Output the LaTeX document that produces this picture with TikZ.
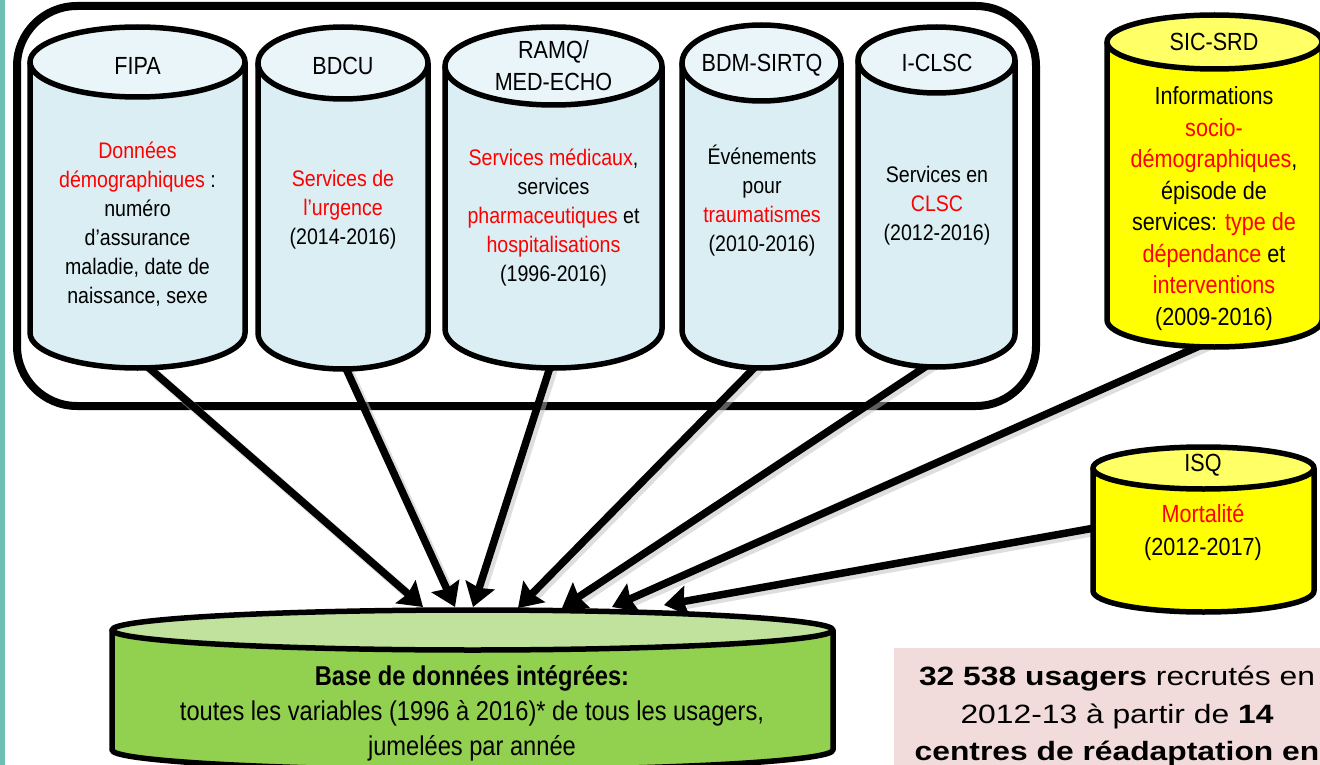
\documentclass[tikz,border=0pt]{standalone}
\usepackage{fontspec}
\setmainfont{Liberation Sans}
\newfontfamily\cylf[FakeStretch=0.87]{Liberation Sans}
\newfontfamily\pinkf[FakeStretch=1.2]{Liberation Sans}
\usetikzlibrary{arrows.meta}
\definecolor{teal0}{HTML}{6CBFB1}
\definecolor{bluebody}{HTML}{DAEEF3}
\definecolor{bluetop}{HTML}{EAF5F9}
\definecolor{yelbody}{HTML}{FFFF00}
\definecolor{yeltop}{HTML}{FFFF66}
\definecolor{grnbody}{HTML}{92D050}
\definecolor{grntop}{HTML}{C0E29C}
\definecolor{pinkbg}{HTML}{F2DCDB}
\definecolor{txtred}{HTML}{FF0000}
\newcommand\redt[1]{\textcolor{txtred}{#1}}
% x1, x2, ytop, ybot, ry, body fill, top fill
\newcommand\dbcyl[7]{%
  \pgfmathsetmacro{\cylcx}{(#1+#2)/2}%
  \pgfmathsetmacro{\cylrx}{(#2-#1)/2}%
  \pgfmathsetmacro{\cylya}{#3+#5}%
  \pgfmathsetmacro{\cylyb}{#4-#5}%
  \path[fill=#6] (#1,\cylya) -- (#1,\cylyb) arc[start angle=180,end angle=0,x radius=\cylrx,y radius=#5] -- (#2,\cylya) -- cycle;
  \draw[cylline] (#1,\cylya) -- (#1,\cylyb) arc[start angle=180,end angle=0,x radius=\cylrx,y radius=#5] -- (#2,\cylya);
  \draw[cylline,fill=#7] (\cylcx,\cylya) ellipse[x radius=\cylrx,y radius=#5];
}
\tikzset{
  cylline/.style={line width=5.5pt,line join=round},
  hdr/.style={inner sep=0pt,align=center,font=\cylf\fontsize{24.8}{32}\selectfont},
  bluetxt/.style={inner sep=0pt,align=center,font=\cylf\fontsize{22.5}{29}\selectfont},
  yeltxt/.style={inner sep=0pt,align=center,font=\cylf\fontsize{24.8}{31.5}\selectfont},
  isqtxt/.style={inner sep=0pt,align=center,font=\cylf\fontsize{24.8}{33}\selectfont},
  grntxt/.style={inner sep=0pt,align=center,font=\cylf\fontsize{27.2}{35}\selectfont},
  pinktxt/.style={inner sep=0pt,align=center,font=\pinkf\fontsize{26.5}{37.5}\selectfont},
  arr/.style={line width=7.5pt,-{Stealth[length=23pt,width=30pt,inset=3pt]}},
  arrshadow/.style={line width=9pt,black!25,opacity=0.5,shorten >=20pt},
}
\begin{document}
\begin{tikzpicture}[x=1pt,y=-1pt]
\useasboundingbox (0,0) rectangle (1320,765);
\fill[white] (0,0) rectangle (1320,765);
\fill[teal0] (0,0) rectangle (4.5,765);
% group frame
\draw[line width=8pt,rounded corners=60pt] (17,6) rectangle (1036,406);
% pink box
\fill[pinkbg] (894,648) rectangle (1340,790);
\node[pinktxt] (count) at (1117,716) {\textbf{32 538 usagers} recrutés en\\2012-13 à partir de \textbf{14}\\\textbf{centres de réadaptation en}};
% green integrated database
\dbcyl{112}{833}{610}{770}{20}{grnbody}{grntop}
\node[grntxt] (base) at (472,713) {\textbf{Base de données intégrées:}\\toutes les variables (1996 à 2016)* de tous les usagers,\\jumelées par année};
% connector end points
\coordinate (fipa-out) at (140,360);
\coordinate (bdcu-out) at (343,362);
\coordinate (ramq-out) at (553,358);
\coordinate (bdm-out) at (762,360);
\coordinate (iclsc-out) at (937,359);
\coordinate (sic-out) at (1213,340);
\coordinate (isq-out) at (1100,527);
\coordinate (in1) at (423,607);
\coordinate (in2) at (455,607);
\coordinate (in3) at (473,607);
\coordinate (in4) at (518,608);
\coordinate (in5) at (562,608);
\coordinate (in6) at (612,607);
\coordinate (in7) at (664,605);
\foreach \s/\t in {fipa-out/in1,bdcu-out/in2,ramq-out/in3,bdm-out/in4,iclsc-out/in5,sic-out/in6,isq-out/in7}
  \draw[arrshadow] ([xshift=3pt,yshift=-3pt]\s) -- ([xshift=3pt,yshift=-3pt]\t);
\draw[arr] (fipa-out) -- (in1);
\draw[arr] (bdcu-out) -- (in2);
\draw[arr] (ramq-out) -- (in3);
\draw[arr] (bdm-out) -- (in4);
\draw[arr] (iclsc-out) -- (in5);
\draw[arr] (sic-out) -- (in6);
\draw[arr] (isq-out) -- (in7);
% source cylinders
\dbcyl{30}{245}{27}{368}{35}{bluebody}{bluetop}
\dbcyl{258}{428}{27}{369}{36}{bluebody}{bluetop}
\dbcyl{445}{662}{27}{368}{39}{bluebody}{bluetop}
\dbcyl{682}{841}{25}{368}{38}{bluebody}{bluetop}
\dbcyl{858}{1015}{27}{367}{33}{bluebody}{bluetop}
\dbcyl{1107}{1322}{15}{347}{27}{yelbody}{yeltop}
\dbcyl{1093}{1314}{447}{612}{21}{yelbody}{yeltop}
% texts
\node[hdr] (fipa-h) at (137.5,66) {FIPA};
\node[bluetxt] (fipa) at (137.5,224) {\redt{Données}\\\redt{démographiques} :\\numéro\\d’assurance\\maladie, date de\\naissance, sexe};
\node[hdr] (bdcu-h) at (343,66) {BDCU};
\node[bluetxt] (bdcu) at (343,210) {\redt{Services de}\\\redt{l’urgence}\\(2014-2016)};
\node[hdr] (ramq-h) at (553.5,66) {RAMQ/\\MED-ECHO};
\node[bluetxt] (ramq) at (553.5,218) {\redt{Services médicaux},\\services\\\redt{pharmaceutiques} et\\\redt{hospitalisations}\\(1996-2016)};
\node[hdr] (bdm-h) at (762,65) {BDM-SIRTQ};
\node[bluetxt] (bdm) at (762,201) {Événements\\pour\\\redt{traumatismes}\\(2010-2016)};
\node[hdr] (iclsc-h) at (937,63) {I-CLSC};
\node[bluetxt] (iclsc) at (937,206) {Services en\\\redt{CLSC}\\(2012-2016)};
\node[hdr] (sic-h) at (1214,42) {SIC-SRD};
\node[yeltxt] (sic) at (1214,208.5) {Informations\\\redt{socio-}\\\redt{démographiques},\\épisode de\\services: \redt{type de}\\\redt{dépendance} et\\\redt{interventions}\\(2009-2016)};
\node[hdr] (isq-h) at (1203,465) {ISQ};
\node[isqtxt] (isq) at (1203,532) {\redt{Mortalité}\\(2012-2017)};
\end{tikzpicture}
\end{document}
